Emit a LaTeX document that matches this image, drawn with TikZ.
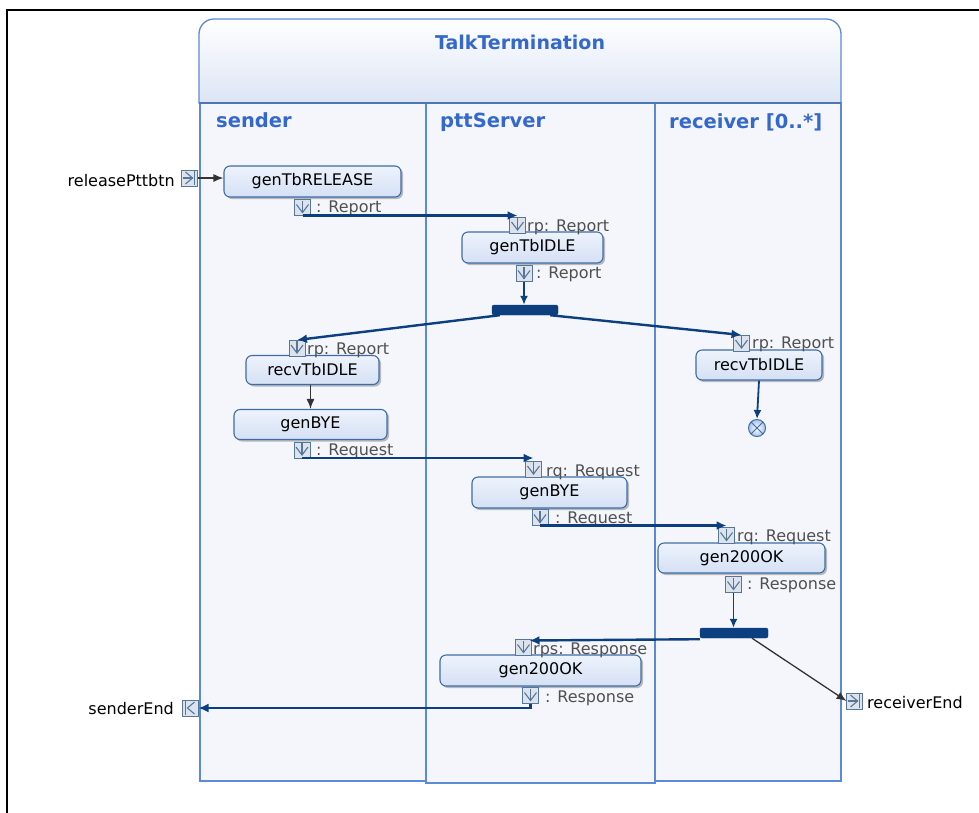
\documentclass[tikz,border=0pt]{standalone}
\usepackage{fontspec}
\setmainfont{DejaVu Sans}
\usetikzlibrary{arrows.meta,shadows}
\definecolor{laneblue}{HTML}{5B8BD6}
\definecolor{lanefill}{HTML}{F4F6FC}
\definecolor{hdrbot}{HTML}{DCE4F5}
\definecolor{titleblue}{HTML}{3468CC}
\definecolor{flow}{HTML}{0B3F80}
\definecolor{actborder}{HTML}{3E6DA6}
\definecolor{acttop}{HTML}{EEF3FC}
\definecolor{actbot}{HTML}{D4E0F4}
\definecolor{pinfill}{HTML}{DCE3EC}
\definecolor{pinborder}{HTML}{56779A}
\definecolor{pintext}{HTML}{505050}
\definecolor{finalfill}{HTML}{A8C2E8}
\begin{document}
\begin{tikzpicture}[x=1pt,y=-1pt,
  lane/.style={draw=laneblue,fill=lanefill,line width=1.3pt},
  lanetitle/.style={anchor=west,inner sep=0pt,text=titleblue,font=\fontsize{19.5}{22}\selectfont\bfseries},
  action/.style={draw=actborder,line width=1.1pt,rounded corners=6pt,top color=acttop,bottom color=actbot,
    minimum height=31pt,inner sep=0pt,font=\fontsize{16}{19}\selectfont,text=black,
    drop shadow={shadow xshift=2pt,shadow yshift=-2pt,opacity=0.25,fill=black}},
  pinbase/.style={draw=pinborder,fill=pinfill,line width=1pt,minimum size=16pt,inner sep=0pt,outer sep=0pt},
  pindown/.style={pinbase,path picture={
    \draw[pinborder,line width=1.1pt] ([shift={(-6pt,3pt)}]path picture bounding box.center) -- ([shift={(0pt,-5pt)}]path picture bounding box.center) -- ([shift={(6pt,3pt)}]path picture bounding box.center);
    \draw[pinborder,line width=1.1pt] ([shift={(0pt,7pt)}]path picture bounding box.center) -- ([shift={(0pt,-5pt)}]path picture bounding box.center);}},
  pinright/.style={pinbase,path picture={
    \draw[pinborder,line width=1.1pt] ([shift={(-4pt,6pt)}]path picture bounding box.center) -- ([shift={(3pt,0pt)}]path picture bounding box.center) -- ([shift={(-4pt,-6pt)}]path picture bounding box.center);
    \draw[pinborder,line width=1.1pt] ([shift={(-7pt,0pt)}]path picture bounding box.center) -- ([shift={(3pt,0pt)}]path picture bounding box.center);
    \draw[pinborder,line width=1.3pt] ([shift={(5pt,7pt)}]path picture bounding box.center) -- ([shift={(5pt,-7pt)}]path picture bounding box.center);}},
  pinleft/.style={pinbase,path picture={
    \draw[pinborder,line width=1.1pt] ([shift={(4pt,6pt)}]path picture bounding box.center) -- ([shift={(-3pt,0pt)}]path picture bounding box.center) -- ([shift={(4pt,-6pt)}]path picture bounding box.center);
    \draw[pinborder,line width=1.3pt] ([shift={(-5pt,7pt)}]path picture bounding box.center) -- ([shift={(-5pt,-7pt)}]path picture bounding box.center);}},
  pinlabel/.style={anchor=west,inner sep=0pt,text=pintext,font=\fontsize{16}{19}\selectfont},
  extlabel/.style={inner sep=0pt,text=black,font=\fontsize{16}{19}\selectfont},
  forkbar/.style={fill=flow,draw=flow,rounded corners=2pt,minimum width=66pt,minimum height=10pt,inner sep=0pt},
  objflow/.style={draw=flow,line width=2.4pt,-{Latex[length=10pt,width=9pt]}},
  ctlflow/.style={draw=flow,line width=1.8pt,-{Latex[length=9pt,width=8pt]}},
  blkflow/.style={draw=black!80,line width=1.3pt,-{Latex[length=10pt,width=8pt]}},
  finalnode/.style={circle,draw=actborder,line width=1pt,minimum size=17pt,inner sep=0pt,inner color=white,outer color=finalfill,
    path picture={
      \draw[actborder,line width=1pt] ([shift={(-6pt,-6pt)}]path picture bounding box.center) -- ([shift={(6pt,6pt)}]path picture bounding box.center);
      \draw[actborder,line width=1pt] ([shift={(-6pt,6pt)}]path picture bounding box.center) -- ([shift={(6pt,-6pt)}]path picture bounding box.center);}}
]
\useasboundingbox (0,0) rectangle (979,812);
\clip (0,0) rectangle (979,812);
\fill[white] (0,0) rectangle (979,812);
% outer frame
\draw[line width=2.6pt] (7,830) -- (7,10) -- (1000,10);

% lanes
\draw[lane] (200,103) rectangle (426,781);
\draw[lane] (655,103) rectangle (841,781);
\draw[lane] (426,103) rectangle (655,783);

% header
\draw[draw=laneblue,line width=1.3pt,top color=white,bottom color=hdrbot]
  (199,103) -- (199,34) arc[start angle=180,end angle=90,radius=15pt] -- (826,19)
  arc[start angle=90,end angle=0,radius=15pt] -- (841,103) -- cycle;
\draw[laneblue!85!black,line width=2.6pt] (199,103) -- (841,103);
\node[inner sep=0pt,text=titleblue,font=\fontsize{19}{22}\selectfont\bfseries] (title) at (520,42) {TalkTermination};

\node[lanetitle] (lsender) at (216,120) {sender};
\node[lanetitle] (lserver) at (440,122) {pttServer};
\node[lanetitle] (lrecv) at (669,122) {receiver [0..*]};

% actions
\node[action,minimum width=177pt] (a1) at (312.5,181.5) {genTbRELEASE};
\node[action,minimum width=141pt] (a2) at (532.5,247.5) {genTbIDLE};
\node[action,minimum width=133pt,minimum height=29pt] (a3) at (312.5,370) {recvTbIDLE};
\node[action,minimum width=153pt,minimum height=30pt] (a4) at (310.5,424.5) {genBYE};
\node[action,minimum width=126pt,minimum height=30pt] (a5) at (759,365) {recvTbIDLE};
\node[action,minimum width=155pt] (a6) at (549.5,492.5) {genBYE};
\node[action,minimum width=167pt,minimum height=30pt] (a7) at (741.5,558) {gen200OK};
\node[action,minimum width=201pt] (a8) at (540.5,670.5) {gen200OK};

% pins
\node[pindown] (p1out) at (302.5,207.5) {};
\node[pindown] (p2in) at (517.5,225) {};
\node[pindown] (p2out) at (524,273.5) {};
\node[pindown] (p3in) at (297,348) {};
\node[pindown] (p4in) at (741.5,343) {};
\node[pindown] (p5out) at (302,450) {};
\node[pindown] (p6in) at (533.5,469) {};
\node[pindown] (p6out) at (540,517.5) {};
\node[pindown] (p7in) at (726.5,535.5) {};
\node[pindown] (p7out) at (733.5,584.5) {};
\node[pindown] (p8in) at (523.5,647.5) {};
\node[pindown] (p8out) at (530.5,695.5) {};
\node[pinright] (rel) at (189.5,178) {};
\node[pinleft] (send) at (190.5,708) {};
\node[pinright] (recvend) at (854.5,701) {};

% pin labels
\node[pinlabel] (t1) at (316,208) {: Report};
\node[pinlabel] (t2) at (527,227) {rp: Report};
\node[pinlabel] (t3) at (536,274) {: Report};
\node[pinlabel] (t4) at (307,350) {rp: Report};
\node[pinlabel] (t5) at (752,344) {rp: Report};
\node[pinlabel] (t6) at (316,451) {: Request};
\node[pinlabel] (t7) at (546,472) {rq: Request};
\node[pinlabel] (t8) at (555,519) {: Request};
\node[pinlabel] (t9) at (737,537) {rq: Request};
\node[pinlabel] (t10) at (747,585) {: Response};
\node[pinlabel] (t11) at (533,650) {rps: Response};
\node[pinlabel] (t12) at (545,698) {: Response};

\node[extlabel,anchor=east] (trel) at (175,181) {releasePttbtn};
\node[extlabel,anchor=east] (tsend) at (174,709) {senderEnd};
\node[extlabel,anchor=west] (trecv) at (867,703) {receiverEnd};

% fork bars and final
\node[forkbar] (f1) at (525,310) {};
\node[forkbar,minimum width=68pt] (f2) at (734,633) {};
\node[finalnode] (fin) at (757,428) {};

% flows
\draw[blkflow] (rel.east) -- (rel.east -| a1.west);
\draw[objflow] (p1out.south) -- (p1out.south -| p2in.north);
\draw[ctlflow] (p2out.south) -- (f1.north -| p2out.south);
\draw[objflow] ([xshift=8pt]f1.south west) -- (p3in.north);
\draw[objflow] ([xshift=-8pt]f1.south east) -- (p4in.north);
\draw[blkflow] (a3.south -| a4.north) -- (a4.north);
\draw[ctlflow] (a5.south) -- (fin.north);
\draw[objflow] (p5out.south) -- (p5out.south -| p6in.north);
\draw[objflow] (p6out.south) -- (p6out.south -| p7in.north);
\draw[ctlflow] (p7out.south) -- (f2.north -| p7out.south);
\draw[objflow] ([yshift=-1pt]f2.south west) -- ([xshift=6pt,yshift=-1pt]p8in.north);
\draw[blkflow] ([xshift=18pt]f2.south) -- (recvend.west);
\draw[objflow] (p8out.south) -- (p8out.south |- send.east) -- (send.east);
\end{tikzpicture}
\end{document}
